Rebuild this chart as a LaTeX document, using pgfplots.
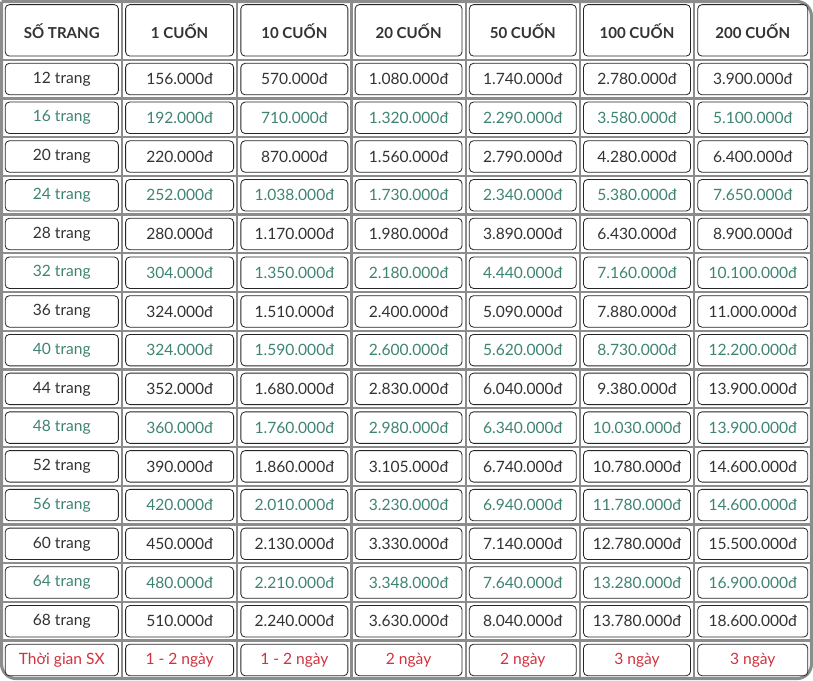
\documentclass[border=0pt]{standalone}
\usepackage{pgfplots}
\pgfplotsset{compat=1.18}
\usepackage{fontspec}
\setmainfont{Lato}
\definecolor{tx}{HTML}{333333}
\definecolor{tl}{HTML}{3F8473}
\definecolor{rd}{HTML}{D2323F}
\definecolor{gl}{HTML}{8C8C8C}
\newcommand\cx[1]{\ifcase#1 31\or 147\or 258\or 368\or 478\or 588\or 698\or 811\fi}
\begin{document}
\begin{tikzpicture}[x=1pt,y=1pt]
\begin{axis}[scale only axis,width=813pt,height=656pt,xmin=0,xmax=813,ymin=0,ymax=656,hide axis,clip=false]
\addplot[gl,line width=3pt,rounded corners=14pt] coordinates {(31,654) (811,654) (811,2) (31,2) (31,654)};
\end{axis}
\foreach \x in {147,258,368,478,588,698}{\draw[gl,line width=2.2pt] (\x,2) -- (\x,654);}
\foreach \k in {0,...,15}{\pgfmathsetmacro\yy{656-(58+37.3*\k)}\draw[gl,line width=2.2pt] (31,\yy) -- (811,\yy);}
\foreach \c in {0,...,6}{
 \pgfmathtruncatemacro\cn{\c+1}
 \pgfmathsetmacro\xa{\cx{\c}+3.5}\pgfmathsetmacro\xb{\cx{\cn}-3.5}
 \foreach \r in {0,...,16}{
  \pgfmathsetmacro\ya{\r==0 ? 656-5 : 656-(58+37.3*(\r-1))-3.5}
  \pgfmathsetmacro\yb{\r==0 ? 656-(58-3.5) : 656-(58+37.3*\r)+3.5}
  \draw[black!85,line width=0.8pt,rounded corners=4pt,fill=white] (\xa,\ya) rectangle (\xb,\yb);
 }}
\foreach \t [count=\c from 0] in {SỐ TRANG,1 CUỐN,10 CUỐN,20 CUỐN,50 CUỐN,100 CUỐN,200 CUỐN}{
 \pgfmathtruncatemacro\cn{\c+1}
 \pgfmathsetmacro\xm{0.5*\cx{\c}+0.5*\cx{\cn}}
 \node[tx,font=\fontsize{14.5}{16}\selectfont\bfseries] at (\xm,{656-31}) {\t};}
\newcommand\row[8]{%
 \foreach \t [count=\c from 0] in {#2,#3,#4,#5,#6,#7,#8}{
 \pgfmathtruncatemacro\cn{\c+1}
 \pgfmathsetmacro\xm{0.5*\cx{\c}+0.5*\cx{\cn}}
 \node[#1,font=\fontsize{15}{17}\selectfont] at (\xm,{656-(58+37.3*(\r-0.5))}) {\t};}}
\foreach \r/\cl/\a/\b/\cc/\d/\e/\f/\g in {
1/tx/12 trang/156.000đ/570.000đ/1.080.000đ/1.740.000đ/2.780.000đ/3.900.000đ,
2/tl/16 trang/192.000đ/710.000đ/1.320.000đ/2.290.000đ/3.580.000đ/5.100.000đ,
3/tx/20 trang/220.000đ/870.000đ/1.560.000đ/2.790.000đ/4.280.000đ/6.400.000đ,
4/tl/24 trang/252.000đ/1.038.000đ/1.730.000đ/2.340.000đ/5.380.000đ/7.650.000đ,
5/tx/28 trang/280.000đ/1.170.000đ/1.980.000đ/3.890.000đ/6.430.000đ/8.900.000đ,
6/tl/32 trang/304.000đ/1.350.000đ/2.180.000đ/4.440.000đ/7.160.000đ/10.100.000đ,
7/tx/36 trang/324.000đ/1.510.000đ/2.400.000đ/5.090.000đ/7.880.000đ/11.000.000đ,
8/tl/40 trang/324.000đ/1.590.000đ/2.600.000đ/5.620.000đ/8.730.000đ/12.200.000đ,
9/tx/44 trang/352.000đ/1.680.000đ/2.830.000đ/6.040.000đ/9.380.000đ/13.900.000đ,
10/tl/48 trang/360.000đ/1.760.000đ/2.980.000đ/6.340.000đ/10.030.000đ/13.900.000đ,
11/tx/52 trang/390.000đ/1.860.000đ/3.105.000đ/6.740.000đ/10.780.000đ/14.600.000đ,
12/tl/56 trang/420.000đ/2.010.000đ/3.230.000đ/6.940.000đ/11.780.000đ/14.600.000đ,
13/tx/60 trang/450.000đ/2.130.000đ/3.330.000đ/7.140.000đ/12.780.000đ/15.500.000đ,
14/tl/64 trang/480.000đ/2.210.000đ/3.348.000đ/7.640.000đ/13.280.000đ/16.900.000đ,
15/tx/68 trang/510.000đ/2.240.000đ/3.630.000đ/8.040.000đ/13.780.000đ/18.600.000đ,
16/rd/Thời gian SX/1 - 2 ngày/1 - 2 ngày/2 ngày/2 ngày/3 ngày/3 ngày}{
 \row{\cl}{\a}{\b}{\cc}{\d}{\e}{\f}{\g}}
\end{tikzpicture}
\end{document}
